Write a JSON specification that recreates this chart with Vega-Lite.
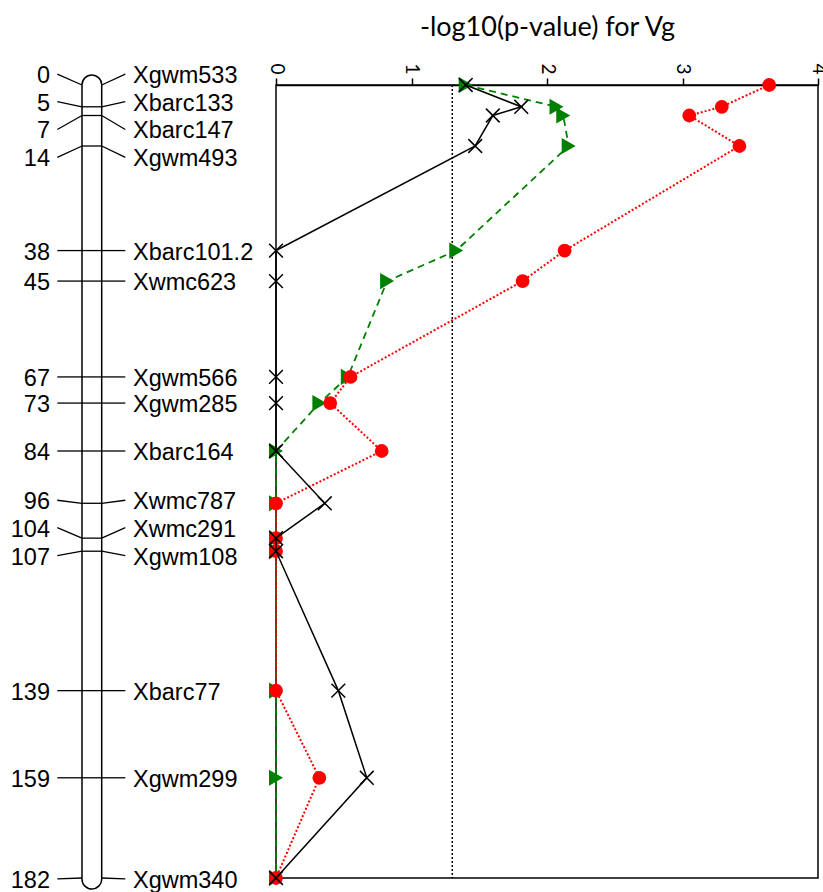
{
  "$schema": "https://vega.github.io/schema/vega-lite/v6.json",
  "padding": {"left": 0, "top": 13, "right": 0, "bottom": 0},
  "config": {"view": {"stroke": null}, "font": "Liberation Sans"},
  "datasets": {
    "map": [
      {"marker": "Xgwm533", "pos": 0, "labelAt": -2.5},
      {"marker": "Xbarc133", "pos": 5, "labelAt": 3.8},
      {"marker": "Xbarc147", "pos": 7, "labelAt": 10.2},
      {"marker": "Xgwm493", "pos": 14, "labelAt": 16.6},
      {"marker": "Xbarc101.2", "pos": 38, "labelAt": 38},
      {"marker": "Xwmc623", "pos": 45, "labelAt": 45},
      {"marker": "Xgwm566", "pos": 67, "labelAt": 67},
      {"marker": "Xgwm285", "pos": 73, "labelAt": 73},
      {"marker": "Xbarc164", "pos": 84, "labelAt": 84},
      {"marker": "Xwmc787", "pos": 96, "labelAt": 95.3},
      {"marker": "Xwmc291", "pos": 104, "labelAt": 101.6},
      {"marker": "Xgwm108", "pos": 107, "labelAt": 108},
      {"marker": "Xbarc77", "pos": 139, "labelAt": 139},
      {"marker": "Xgwm299", "pos": 159, "labelAt": 159},
      {"marker": "Xgwm340", "pos": 182, "labelAt": 182.2}
    ],
    "lod": [
      {"series": "B", "pos": 0, "value": 1.40},
      {"series": "B", "pos": 5, "value": 2.07},
      {"series": "B", "pos": 7, "value": 2.12},
      {"series": "B", "pos": 14, "value": 2.16},
      {"series": "B", "pos": 38, "value": 1.33},
      {"series": "B", "pos": 45, "value": 0.82},
      {"series": "B", "pos": 67, "value": 0.53},
      {"series": "B", "pos": 73, "value": 0.32},
      {"series": "B", "pos": 84, "value": 0},
      {"series": "B", "pos": 96, "value": 0},
      {"series": "B", "pos": 104, "value": 0},
      {"series": "B", "pos": 107, "value": 0},
      {"series": "B", "pos": 139, "value": 0},
      {"series": "B", "pos": 159, "value": 0},
      {"series": "B", "pos": 182, "value": 0},
      {"series": "C", "pos": 0, "value": 3.64},
      {"series": "C", "pos": 5, "value": 3.29},
      {"series": "C", "pos": 7, "value": 3.05},
      {"series": "C", "pos": 14, "value": 3.42},
      {"series": "C", "pos": 38, "value": 2.13},
      {"series": "C", "pos": 45, "value": 1.82},
      {"series": "C", "pos": 67, "value": 0.55},
      {"series": "C", "pos": 73, "value": 0.40},
      {"series": "C", "pos": 84, "value": 0.78},
      {"series": "C", "pos": 96, "value": 0},
      {"series": "C", "pos": 104, "value": 0},
      {"series": "C", "pos": 107, "value": 0},
      {"series": "C", "pos": 139, "value": 0},
      {"series": "C", "pos": 159, "value": 0.32},
      {"series": "C", "pos": 182, "value": 0},
      {"series": "A", "pos": 0, "value": 1.40},
      {"series": "A", "pos": 5, "value": 1.81},
      {"series": "A", "pos": 7, "value": 1.60},
      {"series": "A", "pos": 14, "value": 1.47},
      {"series": "A", "pos": 38, "value": 0},
      {"series": "A", "pos": 45, "value": 0},
      {"series": "A", "pos": 67, "value": 0},
      {"series": "A", "pos": 73, "value": 0},
      {"series": "A", "pos": 84, "value": 0},
      {"series": "A", "pos": 96, "value": 0.36},
      {"series": "A", "pos": 104, "value": 0},
      {"series": "A", "pos": 107, "value": 0},
      {"series": "A", "pos": 139, "value": 0.46},
      {"series": "A", "pos": 159, "value": 0.67},
      {"series": "A", "pos": 182, "value": 0}
    ]
  },
  "spacing": 5,
  "hconcat": [
    {
      "width": 260,
      "height": 793,
      "data": {"name": "map"},
      "layer": [
        {
          "mark": {"type": "rect", "fill": "white", "stroke": "black", "strokeWidth": 1.5, "cornerRadius": 10, "yOffset": -10, "y2Offset": 11},
          "encoding": {
            "x": {"datum": 82, "type": "quantitative", "scale": {"domain": [0, 260], "nice": false, "zero": false}, "axis": null},
            "x2": {"datum": 101.7},
            "y": {"aggregate": "min", "field": "pos", "type": "quantitative", "scale": {"domain": [0, 182], "reverse": true, "nice": false, "zero": false}, "axis": null},
            "y2": {"aggregate": "max", "field": "pos"}
          }
        },
        {
          "mark": {"type": "rule", "color": "black", "strokeWidth": 1.3},
          "encoding": {
            "x": {"datum": 57.3, "type": "quantitative"},
            "x2": {"datum": 82},
            "y": {"field": "labelAt", "type": "quantitative"},
            "y2": {"field": "pos"}
          }
        },
        {
          "transform": [{"filter": "datum.pos > 0 && datum.pos < 182"}],
          "mark": {"type": "rule", "color": "black", "strokeWidth": 1.3},
          "encoding": {
            "x": {"datum": 82, "type": "quantitative"},
            "x2": {"datum": 101.7},
            "y": {"field": "pos", "type": "quantitative"},
            "y2": {"field": "pos"}
          }
        },
        {
          "mark": {"type": "rule", "color": "black", "strokeWidth": 1.3},
          "encoding": {
            "x": {"datum": 101.7, "type": "quantitative"},
            "x2": {"datum": 125.3},
            "y": {"field": "pos", "type": "quantitative"},
            "y2": {"field": "labelAt"}
          }
        },
        {
          "mark": {"type": "text", "align": "right", "baseline": "middle", "fontSize": 23.5, "dy": 2, "color": "black"},
          "encoding": {
            "x": {"datum": 50, "type": "quantitative"},
            "y": {"field": "labelAt", "type": "quantitative"},
            "text": {"field": "pos", "type": "quantitative", "format": "d"}
          }
        },
        {
          "mark": {"type": "text", "align": "left", "baseline": "middle", "fontSize": 23.5, "dy": 2, "color": "black"},
          "encoding": {
            "x": {"datum": 133, "type": "quantitative"},
            "y": {"field": "labelAt", "type": "quantitative"},
            "text": {"field": "marker", "type": "nominal"}
          }
        }
      ]
    },
    {
      "width": 542,
      "height": 793,
      "view": {"stroke": "black", "strokeWidth": 1.5},
      "data": {"name": "lod"},
      "encoding": {
        "x": {
          "field": "value", "type": "quantitative",
          "scale": {"domain": [0, 4], "nice": false, "zero": false},
          "axis": {
            "orient": "top", "values": [0, 1, 2, 3, 4], "grid": false,
            "labelAngle": 90, "labelFont": "Lato", "labelFontSize": 19, "labelColor": "black",
            "labelPadding": 4, "tickSize": 7, "tickColor": "black", "tickWidth": 1.5,
            "domainColor": "black", "domainWidth": 1.5,
            "title": "-log10(p-value) for Vg", "titleFont": "Lato", "titleFontSize": 27,
            "titleFontWeight": "normal", "titleColor": "black", "titlePadding": 21
          }
        },
        "y": {"field": "pos", "type": "quantitative", "scale": {"domain": [0, 182], "reverse": true, "nice": false, "zero": false}, "axis": null},
        "order": {"field": "pos", "type": "quantitative"}
      },
      "layer": [
        {
          "data": {"values": [{"threshold": 1.301}]},
          "mark": {"type": "rule", "color": "black", "strokeWidth": 1.5, "strokeDash": [2, 2]},
          "encoding": {"x": {"field": "threshold", "type": "quantitative"}, "y": null, "order": null}
        },
        {
          "transform": [{"filter": "datum.series === 'B'"}],
          "mark": {"type": "line", "color": "#008000", "strokeWidth": 1.8, "strokeDash": [7, 5]}
        },
        {
          "transform": [{"filter": "datum.series === 'B'"}],
          "mark": {"type": "point", "shape": "triangle-right", "filled": true, "color": "#008000", "size": 260, "opacity": 1}
        },
        {
          "transform": [{"filter": "datum.series === 'C'"}],
          "mark": {"type": "line", "color": "#ff0000", "strokeWidth": 2, "strokeDash": [2, 2]}
        },
        {
          "transform": [{"filter": "datum.series === 'C'"}],
          "mark": {"type": "point", "shape": "circle", "filled": true, "color": "#ff0000", "size": 190, "opacity": 1}
        },
        {
          "transform": [{"filter": "datum.series === 'A'"}],
          "mark": {"type": "line", "color": "black", "strokeWidth": 1.5}
        },
        {
          "transform": [{"filter": "datum.series === 'A'"}],
          "mark": {"type": "point", "shape": "M-1,-1L1,1M-1,1L1,-1", "filled": false, "color": "black", "strokeWidth": 1.5, "size": 190, "opacity": 1}
        }
      ]
    }
  ]
}
